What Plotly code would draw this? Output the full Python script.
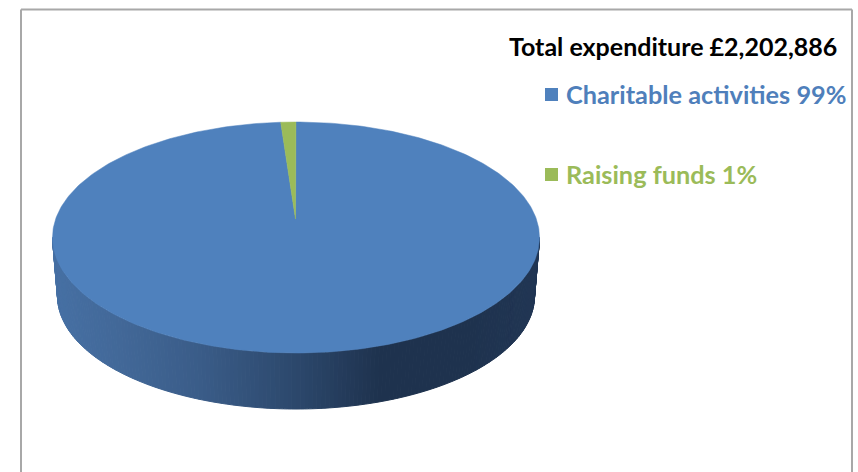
import numpy as np
import plotly.graph_objects as go

categories = ["Charitable activities", "Raising funds"]
shares = [99, 1]
total_label = "Total expenditure £2,202,886"
slice_colors = ["#4f81bd", "#9bbb59"]
legend_text_colors = ["#4f7fbb", "#9bbb59"]

WIDTH, HEIGHT = 858, 472

# Projected pie geometry, in page pixels
CX, CY = 296.0, 237.5
RX, RY = 243.5, 115.5
APEX = (295.5, 219.0)
BOTTOM_CX, BOTTOM_CY = 296.0, 296.0
BOTTOM_RX, BOTTOM_RY = 238.5, 113.0

# Shading of the rim, from its left edge to its right edge
rim_stops_x = [52, 120, 200, 296, 380, 470, 539]
rim_stops_rgb = [
    (70, 112, 164),
    (66, 104, 152),
    (58, 92, 136),
    (44, 72, 108),
    (30, 50, 78),
    (30, 50, 78),
    (33, 54, 84),
]


def rim_color(x):
    channels = [
        np.interp(x, rim_stops_x, [c[i] for c in rim_stops_rgb]) for i in range(3)
    ]
    return "rgb({:.0f},{:.0f},{:.0f})".format(*channels)


def top_point(angle):
    # Angle is measured clockwise from twelve o'clock
    return CX + RX * np.sin(angle), CY - RY * np.cos(angle)


def wedge(start, end):
    angles = np.linspace(start, end, 400)
    xs, ys = top_point(angles)
    return (
        np.concatenate([[APEX[0]], xs, [APEX[0]]]),
        np.concatenate([[APEX[1]], ys, [APEX[1]]]),
    )


fig = go.Figure()

# Rim: thin quads between the front arcs of the top and bottom ellipses
edges = np.linspace(0, np.pi, 181)
for t0, t1 in zip(edges[:-1], edges[1:]):
    x_top = CX + RX * np.cos([t0, t1])
    y_top = CY + RY * np.sin([t0, t1])
    x_bot = BOTTOM_CX + BOTTOM_RX * np.cos([t1, t0])
    y_bot = BOTTOM_CY + BOTTOM_RY * np.sin([t1, t0])
    xs = np.concatenate([x_top, x_bot, x_top[:1]])
    ys = np.concatenate([y_top, y_bot, y_top[:1]])
    color = rim_color(xs.mean())
    fig.add_trace(
        go.Scatter(
            x=xs, y=ys, mode="lines", fill="toself", fillcolor=color,
            line=dict(color=color, width=1), hoverinfo="skip",
        )
    )

# Top face: each slice sweeps clockwise from twelve o'clock
start = 0.0
for share, color in zip(shares, slice_colors):
    end = start + 2 * np.pi * share / sum(shares)
    xs, ys = wedge(start, end)
    fig.add_trace(
        go.Scatter(
            x=xs, y=ys, mode="lines", fill="toself", fillcolor=color,
            line=dict(color=color, width=0.5), hoverinfo="skip",
        )
    )
    start = end

# Key: square marker beside each label
key_rows_y = [94.5, 174.5]
for category, share, color, text_color, y in zip(
    categories, shares, slice_colors, legend_text_colors, key_rows_y
):
    fig.add_trace(
        go.Scatter(
            x=[551.5], y=[y], mode="markers",
            marker=dict(symbol="square", size=13, color=color, line=dict(width=0)),
            hoverinfo="skip",
        )
    )
    fig.add_annotation(
        x=564, y=y - 0.5, xref="x", yref="y", xanchor="left", yanchor="middle",
        text=f"<b>{category} {share}%</b>", showarrow=False,
        font=dict(family="Lato", size=25.3, color=text_color),
    )

fig.add_annotation(
    x=507, y=45.5, xref="x", yref="y", xanchor="left", yanchor="middle",
    text=f"<b>{total_label}</b>", showarrow=False,
    font=dict(family="Lato", size=25, color="#000000"),
)

# Chart frame: left, top and right sides only, the bottom runs off the page
frame = dict(type="line", xref="x", yref="y", line=dict(color="#a8a8a8", width=2))
fig.add_shape(x0=21, y0=9.5, x1=852, y1=9.5, **frame)
fig.add_shape(x0=21, y0=9.5, x1=21, y1=472, **frame)
fig.add_shape(x0=852, y0=9.5, x1=852, y1=472, **frame)

fig.update_layout(
    width=WIDTH, height=HEIGHT,
    margin=dict(l=0, r=0, t=0, b=0),
    paper_bgcolor="#ffffff", plot_bgcolor="#ffffff",
    showlegend=False,
    xaxis=dict(range=[0, WIDTH], visible=False, fixedrange=True),
    yaxis=dict(range=[HEIGHT, 0], visible=False, fixedrange=True),
)

fig.write_html("out.html", config=dict(displayModeBar=False))
